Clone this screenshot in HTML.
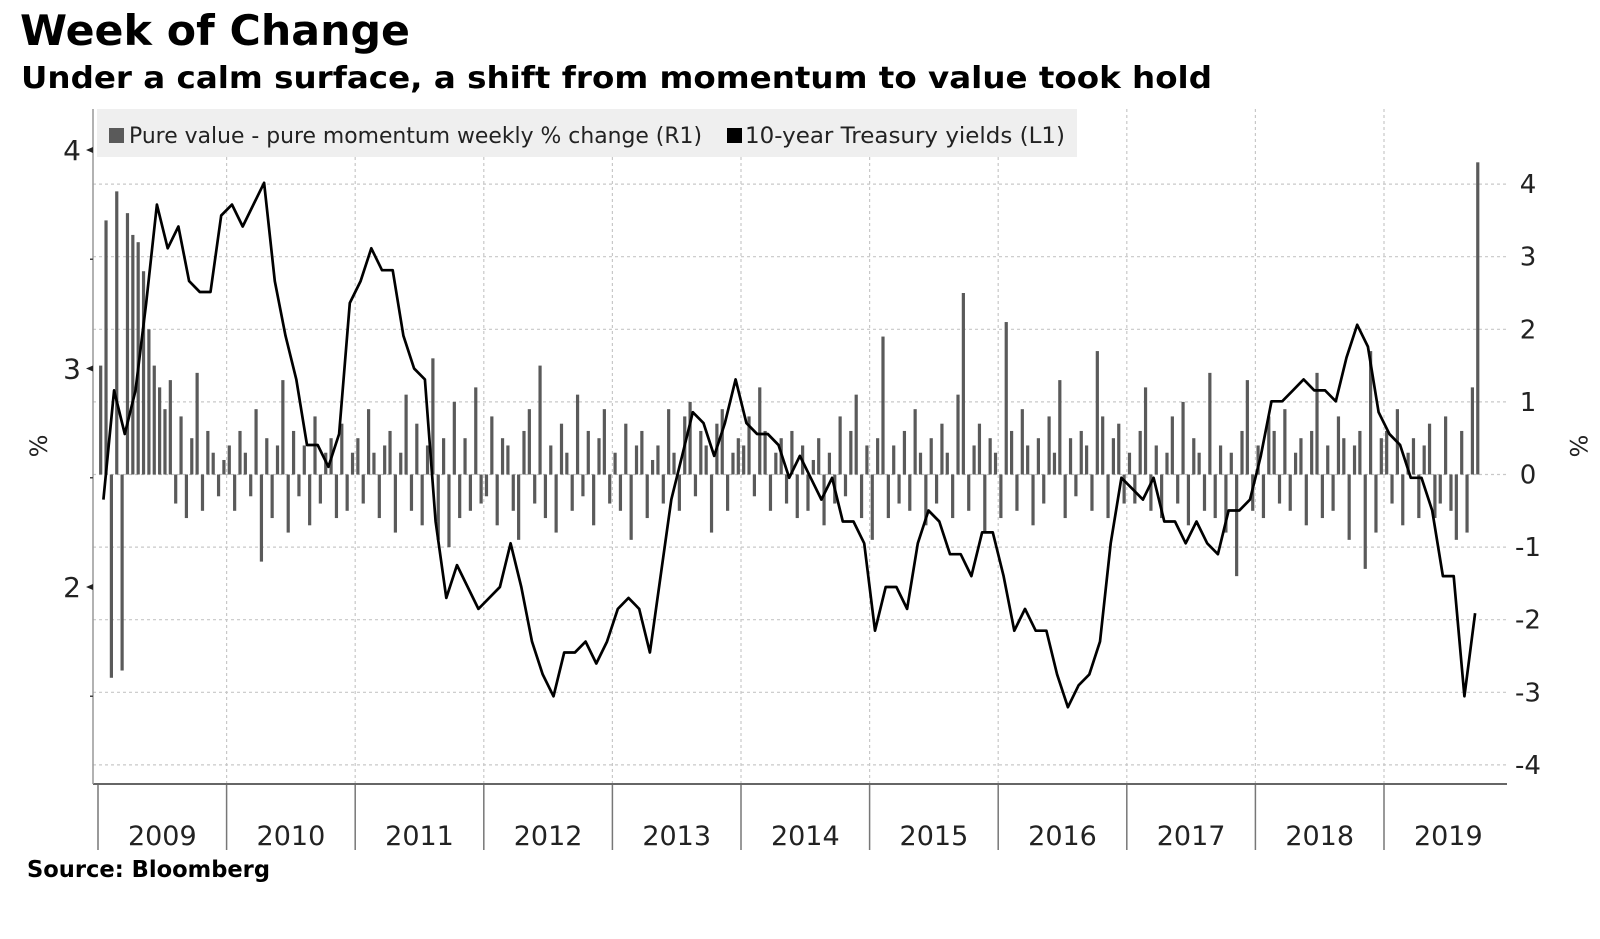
<!DOCTYPE html>
<html><head><meta charset="utf-8"><style>
html,body{margin:0;padding:0;background:#fff;}
svg{display:block;}
</style></head><body>
<svg id="chart" width="1600" height="939" viewBox="0 0 1600 939" xmlns="http://www.w3.org/2000/svg" font-family="'DejaVu Sans','Liberation Sans',sans-serif">
<text x="20" y="45" font-size="42" font-weight="bold" fill="#000" textLength="390" lengthAdjust="spacingAndGlyphs">Week of Change</text>
<text x="21" y="88" font-size="30" font-weight="bold" fill="#000" textLength="1191" lengthAdjust="spacingAndGlyphs">Under a calm surface, a shift from momentum to value took hold</text>
<g id="grid"></g>
<g id="bars"></g>
<g id="line"></g>
<g id="axes"></g>
<g>
<rect x="97" y="109" width="980" height="48" fill="#efefef"/>
<rect x="109" y="128" width="15" height="15" fill="#5a5a5a"/>
<text x="129" y="143" font-size="22" fill="#222" textLength="573" lengthAdjust="spacingAndGlyphs">Pure value - pure momentum weekly % change (R1)</text>
<rect x="727" y="128" width="15" height="15" fill="#000"/>
<text x="745" y="143" font-size="22" fill="#222" textLength="320" lengthAdjust="spacingAndGlyphs">10-year Treasury yields (L1)</text>
</g>
<text transform="translate(47,446) rotate(-90)" font-size="24" text-anchor="middle" fill="#222">%</text>
<text transform="translate(1570,446) rotate(90)" font-size="24" text-anchor="middle" fill="#222">%</text>
<text x="27" y="877" font-size="23" font-weight="bold" fill="#000" textLength="243" lengthAdjust="spacingAndGlyphs">Source: Bloomberg</text>
</svg>
<script>
const years = ["2009","2010","2011","2012","2013","2014","2015","2016","2017","2018","2019"];
const leftTicks = [2,3,4];
const leftMinor = [1.5,2.5,3.5];
const rightTicks = [-4,-3,-2,-1,0,1,2,3,4];
const yields = [
2.4,2.9,2.7,2.9,3.3,3.75,3.55,3.65,3.4,3.35,3.35,3.7,
3.75,3.65,3.75,3.85,3.4,3.15,2.95,2.65,2.65,2.55,2.7,3.3,
3.4,3.55,3.45,3.45,3.15,3.0,2.95,2.3,1.95,2.1,2.0,1.9,
1.95,2.0,2.2,2.0,1.75,1.6,1.5,1.7,1.7,1.75,1.65,1.75,
1.9,1.95,1.9,1.7,2.05,2.4,2.6,2.8,2.75,2.6,2.75,2.95,
2.75,2.7,2.7,2.65,2.5,2.6,2.5,2.4,2.5,2.3,2.3,2.2,
1.8,2.0,2.0,1.9,2.2,2.35,2.3,2.15,2.15,2.05,2.25,2.25,
2.05,1.8,1.9,1.8,1.8,1.6,1.45,1.55,1.6,1.75,2.2,2.5,
2.45,2.4,2.5,2.3,2.3,2.2,2.3,2.2,2.15,2.35,2.35,2.4,
2.6,2.85,2.85,2.9,2.95,2.9,2.9,2.85,3.05,3.2,3.1,2.8,
2.7,2.65,2.5,2.5,2.35,2.05,2.05,1.5,1.88];
const barValues = [
1.5,3.5,-2.8,3.9,-2.7,3.6,3.3,3.2,2.8,2.0,1.5,1.2,0.9,1.3,-0.4,0.8,-0.6,0.5,1.4,-0.5,0.6,0.3,-0.3,0.2,
0.4,-0.5,0.6,0.3,-0.3,0.9,-1.2,0.5,-0.6,0.4,1.3,-0.8,0.6,-0.3,0.4,-0.7,0.8,-0.4,0.3,0.5,-0.6,0.7,-0.5,0.3,
0.5,-0.4,0.9,0.3,-0.6,0.4,0.6,-0.8,0.3,1.1,-0.5,0.7,-0.7,0.4,1.6,-0.9,0.5,-1.0,1.0,-0.6,0.5,-0.5,1.2,-0.4,
-0.3,0.8,-0.7,0.5,0.4,-0.5,-0.9,0.6,0.9,-0.4,1.5,-0.6,0.4,-0.8,0.7,0.3,-0.5,1.1,-0.3,0.6,-0.7,0.5,0.9,-0.4,
0.3,-0.5,0.7,-0.9,0.4,0.6,-0.6,0.2,0.4,-0.4,0.9,0.3,-0.5,0.8,1.0,-0.3,0.6,0.4,-0.8,0.7,0.9,-0.5,0.3,0.5,
0.4,0.8,-0.3,1.2,0.6,-0.5,0.3,0.5,-0.4,0.6,-0.6,0.4,-0.5,0.2,0.5,-0.7,0.3,-0.4,0.8,-0.3,0.6,1.1,-0.6,0.4,
-0.9,0.5,1.9,-0.6,0.4,-0.4,0.6,-0.5,0.9,0.3,-0.7,0.5,-0.4,0.7,0.3,-0.6,1.1,2.5,-0.5,0.4,0.7,-0.8,0.5,0.3,
-0.6,2.1,0.6,-0.5,0.9,0.4,-0.7,0.5,-0.4,0.8,0.3,1.3,-0.6,0.5,-0.3,0.6,0.4,-0.5,1.7,0.8,-0.6,0.5,0.7,-0.4,
0.3,-0.4,0.6,1.2,-0.5,0.4,-0.6,0.3,0.8,-0.4,1.0,-0.7,0.5,0.3,-0.5,1.4,-0.6,0.4,-0.8,0.3,-1.4,0.6,1.3,-0.5,
0.4,-0.6,0.8,0.6,-0.4,0.9,-0.5,0.3,0.5,-0.7,0.6,1.4,-0.6,0.4,-0.5,0.8,0.5,-0.9,0.4,0.6,-1.3,1.7,-0.8,0.5,
0.6,-0.4,0.9,-0.7,0.3,0.5,-0.6,0.4,0.7,-0.6,-0.4,0.8,-0.5,-0.9,0.6,-0.8,1.2,4.3];

const NS="http://www.w3.org/2000/svg";
const X0=98, YW=128.6, PL=93, PR=1507, PT=109, PB=784;
const xT = t => X0 + (t-2009)*YW;
const yL = v => 150 + (4-v)*218.5;
const yR = v => 474.5 - v*72.6;
function mk(tag, attrs, parent){const e=document.createElementNS(NS,tag);for(const k in attrs)e.setAttribute(k,attrs[k]);parent.appendChild(e);return e;}
const grid=document.getElementById('grid'), bars=document.getElementById('bars'), line=document.getElementById('line'), axes=document.getElementById('axes');

rightTicks.forEach(v=>{
  const g=mk('line',{x1:PL,x2:PR,y1:yR(v),y2:yR(v),stroke:'#c8c8c8','stroke-width':1.2,'stroke-dasharray':'3,3'},grid);
  
  
  const t=mk('text',{x:1528,y:yR(v)+9,'font-size':26,'text-anchor':'middle',fill:'#222'},axes);
  t.textContent=(v<0?'-'+Math.abs(v):String(v));
  
  
});
years.forEach((y,i)=>{
  const x=xT(2009+i);
  if(i>0){const g=mk('line',{x1:x,x2:x,y1:PT,y2:PB,stroke:'#c8c8c8','stroke-width':1.2,'stroke-dasharray':'3,3'},grid);
  
  }
  const tk=mk('line',{x1:x,x2:x,y1:PB,y2:850,stroke:'#777','stroke-width':1.5},axes);
  
  
  const t=mk('text',{x:x+YW/2,y:845,'font-size':27,'text-anchor':'middle',fill:'#222'},axes);
  t.textContent=y;
  
  
});
barValues.forEach((v,i)=>{
  const t=2009+(i+0.5)/24;
  const y0=yR(0), y1=yR(v);
  const r=mk('rect',{x:xT(t)-1.6,y:Math.min(y0,y1),width:3.2,height:Math.max(1,Math.abs(y1-y0)),fill:'#5a5a5a'},bars);
  
  
});
let d='';
yields.forEach((v,i)=>{const t=2009+(i+0.5)/12;d+=(i?'L':'M')+xT(t).toFixed(1)+' '+yL(v).toFixed(1);});
const p=mk('path',{d:d,fill:'none',stroke:'#000','stroke-width':2.7,'stroke-linejoin':'round'},line);



const ax=mk('line',{x1:PL,x2:PR,y1:PB,y2:PB,stroke:'#666','stroke-width':2},axes);


const la=mk('line',{x1:PL,x2:PL,y1:PT,y2:PB,stroke:'#999','stroke-width':1.5},axes);


leftTicks.forEach(v=>{
  const tr=mk('path',{d:`M${PL} ${yL(v)-3}L${PL-7} ${yL(v)}L${PL} ${yL(v)+3}Z`,fill:'#222'},axes);
  
  
  const t=mk('text',{x:72,y:yL(v)+10,'font-size':28,'text-anchor':'middle',fill:'#222'},axes);
  t.textContent=String(v);
  
  
});
leftMinor.forEach(v=>{
  const m=mk('line',{x1:PL-3,x2:PL,y1:yL(v),y2:yL(v),stroke:'#444','stroke-width':1.5},axes);
  
  
});
</script>
</body></html>
